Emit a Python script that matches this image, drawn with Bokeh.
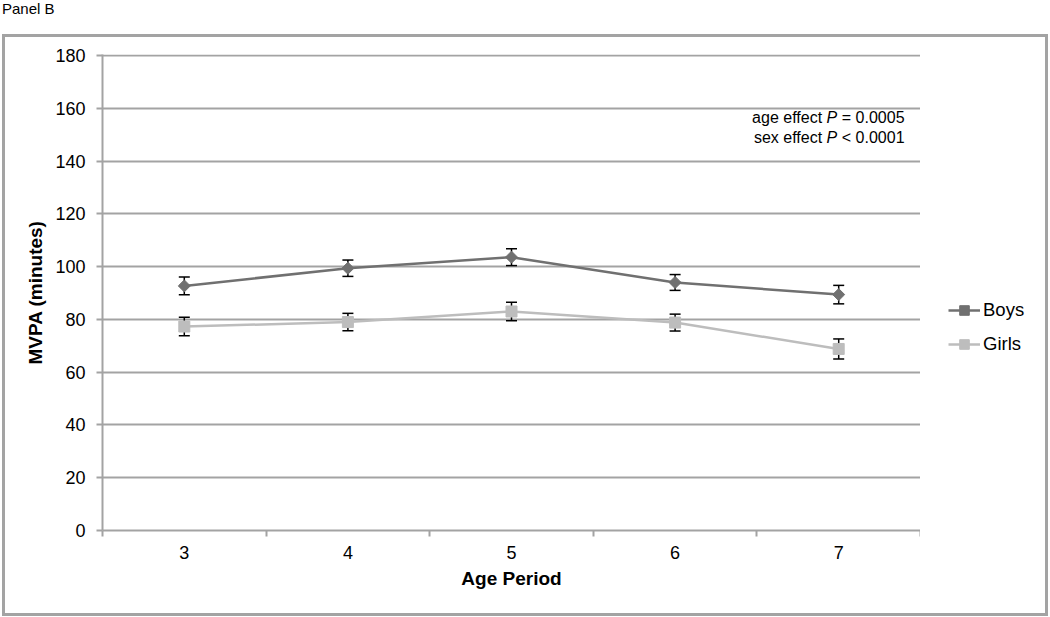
from bokeh.plotting import figure
from bokeh.layouts import column, row
from bokeh.models import (Range1d, FixedTicker, ColumnDataSource, Whisker, TeeHead,
                          Legend, LegendItem, Label, Div)
from bokeh.embed import file_html
from bokeh.resources import INLINE
import math

# ---- data ----
ages = [3, 4, 5, 6, 7]
boys = [92.7, 99.4, 103.6, 94.0, 89.4]
boys_err = [3.4, 3.1, 3.2, 3.0, 3.5]
girls = [77.3, 79.0, 83.0, 78.8, 68.8]
girls_err = [3.5, 3.3, 3.5, 3.2, 3.8]
y_ticks = [0, 20, 40, 60, 80, 100, 120, 140, 160, 180]
x_bounds = [2.5, 3.5, 4.5, 5.5, 6.5, 7.5]

FONT = "Liberation Sans"
GRID = "#a3a3a3"
BOYS_C = "#707070"
GIRLS_C = "#bdbdbd"

CAP_H = 34          # caption strip above the bordered chart
H = 617 - CAP_H     # height of the bordered chart
W_MAIN, W_LEG = 920, 130

# ---------------- main chart ----------------
p = figure(width=W_MAIN, height=H, output_backend="svg", toolbar_location=None,
           x_range=Range1d(2.5, 7.5), y_range=Range1d(0, 180.4),
           min_border_left=102, min_border_right=0,
           min_border_top=20, min_border_bottom=H - 496)
p.outline_line_color = None
p.background_fill_color = "white"
p.border_fill_color = None

p.xgrid.grid_line_color = None
p.ygrid.grid_line_color = GRID
p.ygrid.grid_line_width = 2

p.yaxis.ticker = FixedTicker(ticks=y_ticks)
p.yaxis.axis_line_color = GRID
p.yaxis.axis_line_width = 2
p.yaxis.major_tick_line_color = GRID
p.yaxis.major_tick_line_width = 2
p.yaxis.major_tick_out = 6
p.yaxis.major_tick_in = 0
p.yaxis.minor_tick_line_color = None
p.yaxis.major_label_standoff = 11
p.yaxis.major_label_text_font = FONT
p.yaxis.major_label_text_font_size = "18px"
p.yaxis.major_label_text_color = "black"
p.yaxis.axis_label = "MVPA (minutes)"
p.yaxis.axis_label_text_font = FONT
p.yaxis.axis_label_text_font_style = "bold"
p.yaxis.axis_label_text_font_size = "19px"
p.yaxis.axis_label_text_color = "black"
p.yaxis.axis_label_standoff = 6

p.xaxis.ticker = FixedTicker(ticks=ages, minor_ticks=x_bounds)
p.xaxis.axis_line_color = GRID
p.xaxis.axis_line_width = 2
p.xaxis.major_tick_line_color = None
p.xaxis.major_tick_out = 0
p.xaxis.major_tick_in = 0
p.xaxis.minor_tick_line_color = GRID
p.xaxis.minor_tick_line_width = 2
p.xaxis.minor_tick_out = 6
p.xaxis.minor_tick_in = 0
p.xaxis.major_label_standoff = 9
p.xaxis.major_label_text_font = FONT
p.xaxis.major_label_text_font_size = "18px"
p.xaxis.major_label_text_color = "black"
p.xaxis.axis_label = "Age Period"
p.xaxis.axis_label_text_font = FONT
p.xaxis.axis_label_text_font_style = "bold"
p.xaxis.axis_label_text_font_size = "19px"
p.xaxis.axis_label_text_color = "black"
p.xaxis.axis_label_standoff = 6

src_b = ColumnDataSource(dict(x=ages, y=boys,
                              lo=[v - e for v, e in zip(boys, boys_err)],
                              hi=[v + e for v, e in zip(boys, boys_err)]))
src_g = ColumnDataSource(dict(x=ages, y=girls,
                              lo=[v - e for v, e in zip(girls, girls_err)],
                              hi=[v + e for v, e in zip(girls, girls_err)]))

for src in (src_b, src_g):
    w = Whisker(source=src, base="x", upper="hi", lower="lo",
                line_color="black", line_width=1.5, level="underlay",
                upper_head=TeeHead(size=11, line_color="black", line_width=1.5),
                lower_head=TeeHead(size=11, line_color="black", line_width=1.5))
    p.add_layout(w)

p.line("x", "y", source=src_g, line_color=GIRLS_C, line_width=2.5)
p.line("x", "y", source=src_b, line_color=BOYS_C, line_width=2.5)
p.scatter("x", "y", source=src_g, marker="square", size=11,
          fill_color=GIRLS_C, line_color=GIRLS_C)
p.scatter("x", "y", source=src_b, marker="square", size=8.5, angle=math.pi / 4,
          fill_color=BOYS_C, line_color=BOYS_C)

stat_y = [156.7, 149.1]
for yy, pre, post in zip(stat_y, ["age effect", "sex effect"], ["= 0.0005", "< 0.0001"]):
    p.add_layout(Label(x=7.5, y=yy, x_offset=-98.4, text=pre, text_align="right",
                       text_baseline="middle", text_font=FONT, text_font_size="16px",
                       text_color="black"))
    p.add_layout(Label(x=7.5, y=yy, x_offset=-93.9, text="P", text_align="left",
                       text_baseline="middle", text_font=FONT, text_font_size="16px",
                       text_font_style="italic", text_color="black"))
    p.add_layout(Label(x=7.5, y=yy, x_offset=-78.7, text=post, text_align="left",
                       text_baseline="middle", text_font=FONT, text_font_size="16px",
                       text_color="black"))

# ---------------- legend strip (same series & styles; its view range shows no marks) ----------------
pl = figure(width=W_LEG, height=H, output_backend="svg", toolbar_location=None,
            x_range=Range1d(0, 1), y_range=Range1d(0, 1),
            x_axis_location=None, y_axis_location=None,
            min_border_left=0, min_border_right=0, min_border_top=0, min_border_bottom=0)
pl.outline_line_color = None
pl.background_fill_color = None
pl.border_fill_color = None
pl.grid.grid_line_color = None

lb_line = pl.line("x", "y", source=src_b, line_color=BOYS_C, line_width=2.5)
lb_mark = pl.scatter("x", "y", source=src_b, marker="square", size=8.5, angle=math.pi / 4,
                     fill_color=BOYS_C, line_color=BOYS_C)
lg_line = pl.line("x", "y", source=src_g, line_color=GIRLS_C, line_width=2.5)
lg_mark = pl.scatter("x", "y", source=src_g, marker="square", size=11,
                     fill_color=GIRLS_C, line_color=GIRLS_C)

legend = Legend(items=[LegendItem(label="Boys", renderers=[lb_line, lb_mark]),
                       LegendItem(label="Girls", renderers=[lg_line, lg_mark])],
                location=(28, 174), padding=0, margin=0, spacing=10,
                glyph_width=32, glyph_height=24, label_height=24, label_standoff=3,
                border_line_color=None, background_fill_alpha=0,
                label_text_font=FONT, label_text_font_size="18.5px",
                label_text_color="black")
pl.add_layout(legend)

# ---------------- caption + bordered chart ----------------
caption = Div(text="Panel B", width=W_MAIN + W_LEG, height=CAP_H, margin=0,
              styles={"font-family": FONT, "font-size": "15px", "color": "black",
                      "line-height": "1", "padding-top": "1px", "padding-left": "2px"})

g = "linear-gradient(#a3a3a3, #a3a3a3)"
chart = row(p, pl, spacing=0, styles={
    "background-color": "white",
    "background-image": ", ".join([g] * 4),
    "background-position": "2px 0px, 2px %dpx, 2px 0px, 1045px 0px" % (H - 4),
    "background-size": "1046px 3px, 1046px 3px, 3px %dpx, 3px %dpx" % (H - 1, H - 1),
    "background-repeat": "no-repeat",
})

layout = column(caption, chart, spacing=0)
open("out.html", "w").write(file_html(layout, INLINE))
